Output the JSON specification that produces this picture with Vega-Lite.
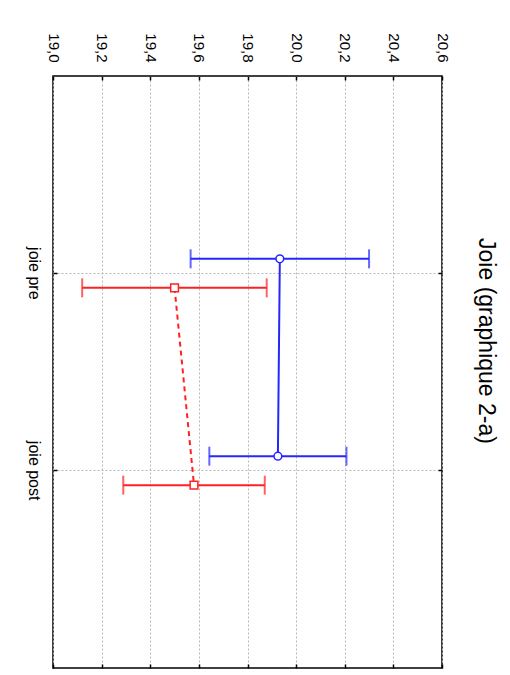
{
  "$schema": "https://vega.github.io/schema/vega-lite/v6.json",
  "autosize": "none",
  "width": 389,
  "height": 592,
  "padding": {"left": 53, "top": 76, "right": 68, "bottom": 7},
  "background": "white",
  "title": {
    "text": "Joie (graphique 2-a)",
    "orient": "right",
    "anchor": "middle",
    "font": "Liberation Sans",
    "fontSize": 23,
    "fontWeight": "normal",
    "color": "black",
    "offset": 25,
    "dx": -31
  },
  "config": {
    "view": {"stroke": "black", "strokeWidth": 1.5, "fill": "white"},
    "axis": {
      "labelFont": "Liberation Sans",
      "labelColor": "black",
      "domain": false,
      "tickColor": "black",
      "gridColor": "#b8b8b8",
      "gridDash": [2, 2],
      "gridWidth": 1
    }
  },
  "data": {
    "values": [
      {"cond": "joie pre", "group": "A", "mean": 19.933, "lo": 19.566, "hi": 20.30},
      {"cond": "joie post", "group": "A", "mean": 19.925, "lo": 19.643, "hi": 20.207},
      {"cond": "joie pre", "group": "B", "mean": 19.50, "lo": 19.12, "hi": 19.879},
      {"cond": "joie post", "group": "B", "mean": 19.58, "lo": 19.289, "hi": 19.871}
    ]
  },
  "encoding": {
    "y": {
      "field": "cond",
      "type": "nominal",
      "sort": ["joie pre", "joie post"],
      "scale": {"type": "band", "domain": ["joie pre", "joie post"], "paddingInner": 0.706, "paddingOuter": 0.853},
      "axis": null
    },
    "yOffset": {"field": "group", "type": "nominal", "scale": {"domain": ["A", "B"]}},
    "color": {
      "field": "group",
      "type": "nominal",
      "scale": {"domain": ["A", "B"], "range": ["#2626ff", "#ff2020"]},
      "legend": null
    }
  },
  "layer": [
    {
      "mark": {"type": "rule", "strokeWidth": 2},
      "encoding": {
        "x": {
          "field": "lo",
          "type": "quantitative",
          "scale": {"domain": [19, 20.6], "nice": false, "zero": false},
          "axis": {
            "orient": "top",
            "title": null,
            "values": [19, 19.2, 19.4, 19.6, 19.8, 20, 20.2, 20.4, 20.6],
            "labelExpr": "replace(format(datum.value, '.1f'), '.', ',')",
            "labelAngle": 90,
            "labelAlign": "right",
            "labelBaseline": "middle",
            "labelFontSize": 15,
            "labelPadding": 18,
            "tickSize": -4,
            "tickWidth": 1.5,
            "grid": true
          }
        },
        "x2": {"field": "hi"},
        "y": {
          "field": "cond",
          "type": "nominal",
          "sort": ["joie pre", "joie post"],
          "axis": {
            "orient": "left",
            "title": null,
            "bandPosition": 0.5,
            "labelAngle": 90,
            "labelAlign": "center",
            "labelBaseline": "top",
            "labelFontSize": 16,
            "labelPadding": 16,
            "tickSize": -4,
            "tickWidth": 1.5,
            "grid": true
          }
        }
      }
    },
    {
      "mark": {"type": "tick", "thickness": 2, "size": 19},
      "encoding": {"x": {"field": "lo", "type": "quantitative", "axis": null}}
    },
    {
      "mark": {"type": "tick", "thickness": 2, "size": 19},
      "encoding": {"x": {"field": "hi", "type": "quantitative", "axis": null}}
    },
    {
      "mark": {"type": "line", "strokeWidth": 2},
      "encoding": {
        "x": {
          "field": "mean",
          "type": "quantitative",
          "axis": {
            "orient": "bottom",
            "title": null,
            "values": [19, 19.2, 19.4, 19.6, 19.8, 20, 20.2, 20.4, 20.6],
            "labels": false,
            "tickSize": -4,
            "tickWidth": 1.5,
            "grid": false
          }
        },
        "y": {
          "field": "cond",
          "type": "nominal",
          "sort": ["joie pre", "joie post"],
          "axis": {
            "orient": "right",
            "title": null,
            "bandPosition": 0.5,
            "labels": false,
            "tickSize": -4,
            "tickWidth": 1.5,
            "grid": false
          }
        },
        "order": {"field": "cond", "type": "nominal", "sort": "descending"},
        "strokeDash": {
          "field": "group",
          "type": "nominal",
          "scale": {"domain": ["A", "B"], "range": [[1, 0], [5, 4]]},
          "legend": null
        }
      }
    },
    {
      "mark": {"type": "point", "filled": true, "fill": "white", "size": 60, "strokeWidth": 1.5, "opacity": 1},
      "encoding": {
        "x": {"field": "mean", "type": "quantitative", "axis": null},
        "stroke": {
          "field": "group",
          "type": "nominal",
          "scale": {"domain": ["A", "B"], "range": ["#2626ff", "#ff2020"]},
          "legend": null
        },
        "shape": {
          "field": "group",
          "type": "nominal",
          "scale": {"domain": ["A", "B"], "range": ["circle", "square"]},
          "legend": null
        }
      }
    }
  ],
  "resolve": {"axis": {"x": "independent", "y": "independent"}}
}
